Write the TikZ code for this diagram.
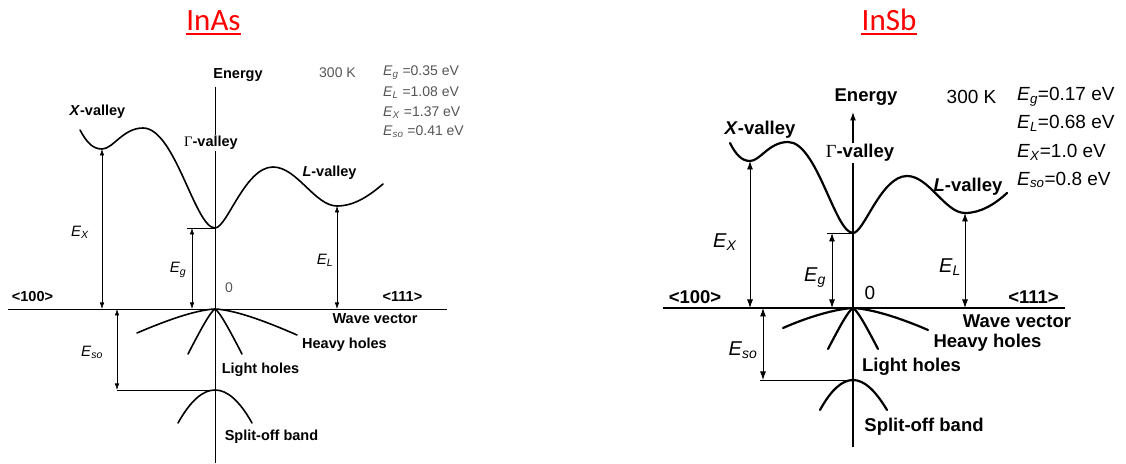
\documentclass[tikz,border=0pt]{standalone}
\usepackage{fontspec}
\setmainfont{Liberation Sans}
\newfontfamily\titlefont{Carlito}
\newfontfamily\grfont{Liberation Serif}
\usetikzlibrary{arrows.meta}

\definecolor{titlered}{RGB}{255,0,0}
\definecolor{valgray}{RGB}{85,85,85}
\newcommand{\En}[1]{\textit{E}\textsubscript{\textit{#1}}}

\tikzset{
  title/.style={font=\fontsize{31}{34}\selectfont\titlefont, text=titlered, inner sep=0pt, anchor=base},
  titleline/.style={draw=titlered, line width=2pt},
  % InAs panel
  bandA/.style={line width=1.6pt, line cap=round},
  axisA/.style={line width=0.8pt},
  helpA/.style={line width=0.6pt},
  dimA/.style={{Latex[length=6.5pt,width=4.5pt]}-{Latex[length=6.5pt,width=4.5pt]}, line width=0.6pt},
  lblA/.style={font=\fontsize{14.5}{16}\selectfont\bfseries, inner sep=1pt},
  valA/.style={font=\fontsize{14}{16}\selectfont, text=valgray, inner sep=0pt, anchor=west},
  symA/.style={font=\fontsize{15}{17}\selectfont, inner sep=0pt},
  % InSb panel
  bandB/.style={line width=2.2pt, line cap=round},
  axisB/.style={line width=1.2pt},
  helpB/.style={line width=0.9pt},
  dimB/.style={{Latex[length=8.5pt,width=6pt]}-{Latex[length=8.5pt,width=6pt]}, line width=0.9pt},
  lblB/.style={font=\fontsize{18.5}{20}\selectfont\bfseries, inner sep=1pt},
  valB/.style={font=\fontsize{19}{21}\selectfont, inner sep=0pt, anchor=west},
  symB/.style={font=\fontsize{20}{22}\selectfont, inner sep=0pt}
}

\begin{document}
\begin{tikzpicture}[x=1pt, y=1pt]
  \useasboundingbox (0,0) rectangle (1126,463);

  \node[title] (tInAs) at (213.5,432) {InAs};
  \draw[titleline] ([yshift=-3.5pt]tInAs.base west) -- ([yshift=-3.5pt]tInAs.base east);
  \node[title] (tInSb) at (889,432) {InSb};
  \draw[titleline] ([yshift=-3.5pt]tInSb.base west) -- ([yshift=-3.5pt]tInSb.base east);

  % InAs
  \begin{scope}[shift={(215,154)}]
    \coordinate (OA) at (0,0);
    \coordinate (EtopA) at (0,222);
    \coordinate (EbotA) at (0,-154);
    \coordinate (KlA) at (-207,0);
    \coordinate (KrA) at (232,0);
    \coordinate (XsA) at (-135,179);
    \coordinate (XminA) at (-113,160);
    \coordinate (XmaxA) at (-72,181);
    \coordinate (GminA) at (0,81);
    \coordinate (LmaxA) at (58,142);
    \coordinate (LminA) at (122,103);
    \coordinate (LsA) at (168,125);
    \coordinate (EgA) at (-23,81);
    \coordinate (EglA) at (-28,81);
    \coordinate (SOtopA) at (0,-81);
    \coordinate (EsoA) at (-98,-81);
    \draw[axisA] (EbotA) -- (EtopA);
    \draw[axisA] (KlA) -- (KrA);
    \draw[bandA] (XsA) .. controls (-128,166) and (-122,160) .. (XminA)
      .. controls (-102,160) and (-92,181) .. (XmaxA)
      .. controls (-40,181) and (-20,81) .. (GminA)
      .. controls (12,81) and (30,142) .. (LmaxA)
      .. controls (82,142) and (100,103) .. (LminA)
      .. controls (140,103) and (155,114) .. (LsA);
    \draw[bandA] (-78,-24) .. controls (-50,-12) and (-20,-1) .. (OA)
      .. controls (20,-1) and (50,-12) .. (82,-26);
    \draw[bandA] (-27,-45) .. controls (-15,-22) and (-5,-3) .. (OA)
      .. controls (5,-3) and (15,-22) .. (27,-45);
    \draw[bandA] (-37,-114) .. controls (-24.7,-92) and (-12.3,-81) .. (SOtopA)
      .. controls (12.3,-81) and (24.7,-92) .. (37,-114);
    \draw[helpA] (EglA) -- (GminA);
    \draw[helpA] (EsoA) -- (SOtopA);
    \draw[dimA] (XminA) -- (XminA |- OA);
    \draw[dimA] (EgA) -- (EgA |- OA);
    \draw[dimA] (LminA) -- (LminA |- OA);
    \draw[dimA] (EsoA |- OA) -- (EsoA);
    \node[lblA] (EnergyA) at (23,234) {Energy};
    \node[lblA, fill=white] (GvA) at (-4,166) {{\grfont\mdseries Γ}-valley};
    \node[lblA] (XvA) at (-117.5,197) {\textit{X}-valley};
    \node[lblA] (LvA) at (114.5,136) {\textit{L}-valley};
    \node[lblA] (d100A) at (-182.5,12) {<100>};
    \node[lblA] (d111A) at (187.5,12) {<111>};
    \node[valA, anchor=center] (zeroA) at (14,21) {0};
    \node[lblA] (wvA) at (160,-10) {Wave vector};
    \node[lblA] (hhA) at (129.5,-36) {Heavy holes};
    \node[lblA] (lhA) at (45.5,-61) {Light holes};
    \node[lblA] (soA) at (56.5,-128) {Split-off band};
    \node[valA, anchor=center] (tempA) at (122.5,236) {300 K};
    \node[valA] (vgA) at (168,236) {\En{g} =0.35 eV};
    \node[valA] (vlA) at (168,216) {\En{L} =1.08 eV};
    \node[valA] (vxA) at (168,196) {\En{X} =1.37 eV};
    \node[valA] (vsoA) at (168,177) {\En{so} =0.41 eV};
    \node[symA] (ExA) at (-135,77) {\En{X}};
    \node[symA] (EgLA) at (-37,39) {\En{g}};
    \node[symA] (ELA) at (110,49) {\En{L}};
    \node[symA] (EsoLA) at (-123,-43) {\En{so}};
  \end{scope}

  % InSb
  \begin{scope}[shift={(853,155)}]
    \coordinate (OB) at (0,0);
    \coordinate (EtopB) at (0,196);
    \coordinate (EbotB) at (0,-139);
    \coordinate (KlB) at (-190,0);
    \coordinate (KrB) at (212,0);
    \coordinate (XsB) at (-123,165);
    \coordinate (XminB) at (-103,147);
    \coordinate (XmaxB) at (-65,166);
    \coordinate (GminB) at (0,75);
    \coordinate (LmaxB) at (54,132);
    \coordinate (LminB) at (112,95);
    \coordinate (LsB) at (154,115);
    \coordinate (EgB) at (-21,75);
    \coordinate (EglB) at (-26,75);
    \coordinate (SOtopB) at (0,-72);
    \coordinate (EsoB) at (-90,-72);
    \coordinate (EsolB) at (-93,-72);
    \draw[axisB, -{Latex[length=8.5pt,width=6pt]}] (EbotB) -- (EtopB);
    \draw[axisB] (KlB) -- (KrB);
    \draw[bandB] (XsB) .. controls (-117,153) and (-111,147) .. (XminB)
      .. controls (-93,147) and (-84,166) .. (XmaxB)
      .. controls (-36,166) and (-18,75) .. (GminB)
      .. controls (11,75) and (28,132) .. (LmaxB)
      .. controls (76,132) and (92,95) .. (LminB)
      .. controls (128,95) and (142,104) .. (LsB);
    \draw[bandB] (-70,-20) .. controls (-45,-9) and (-18,-1) .. (OB)
      .. controls (18,-1) and (45,-9) .. (75,-22);
    \draw[bandB] (-25,-41) .. controls (-14,-20) and (-5,-3) .. (OB)
      .. controls (5,-3) and (14,-20) .. (25,-41);
    \draw[bandB] (-33,-102) .. controls (-22,-82) and (-11,-72) .. (SOtopB)
      .. controls (11,-72) and (22,-82) .. (34,-102);
    \draw[helpB] (EglB) -- (GminB);
    \draw[helpB] (EsolB) -- (SOtopB);
    \draw[dimB] (XminB) -- (XminB |- OB);
    \draw[dimB] (EgB) -- (EgB |- OB);
    \draw[dimB] (LminB) -- (LminB |- OB);
    \draw[dimB] (EsoB |- OB) -- (EsoB);
    \node[lblB] (EnergyB) at (13,211) {Energy};
    \node[lblB, fill=white] (GvB) at (7,155) {{\grfont\mdseries Γ}-valley};
    \node[lblB] (XvB) at (-93,178) {\textit{X}-valley};
    \node[lblB] (LvB) at (115,121) {\textit{L}-valley};
    \node[lblB] (d100B) at (-158,11) {<100>};
    \node[lblB] (d111B) at (180.5,11) {<111>};
    \node[valB, anchor=center] (zeroB) at (17,15.5) {0};
    \node[lblB] (wvB) at (164,-13) {Wave vector};
    \node[lblB] (hhB) at (134.5,-35) {Heavy holes};
    \node[lblB] (lhB) at (58.5,-59) {Light holes};
    \node[lblB] (soB) at (71,-119) {Split-off band};
    \node[valB, anchor=center] (tempB) at (118.5,211) {300 K};
    \node[valB] (vgB) at (164,211) {\En{g}=0.17 eV};
    \node[valB] (vlB) at (164,185) {\En{L}=0.68 eV};
    \node[valB] (vxB) at (164,156) {\En{X}=1.0 eV};
    \node[valB] (vsoB) at (164,128) {\En{so}=0.8 eV};
    \node[symB] (ExB) at (-128,66) {\En{X}};
    \node[symB] (EgLB) at (-38,30) {\En{g}};
    \node[symB] (ELB) at (97,41) {\En{L}};
    \node[symB] (EsoLB) at (-110,-42) {\En{so}};
  \end{scope}
\end{tikzpicture}
\end{document}
